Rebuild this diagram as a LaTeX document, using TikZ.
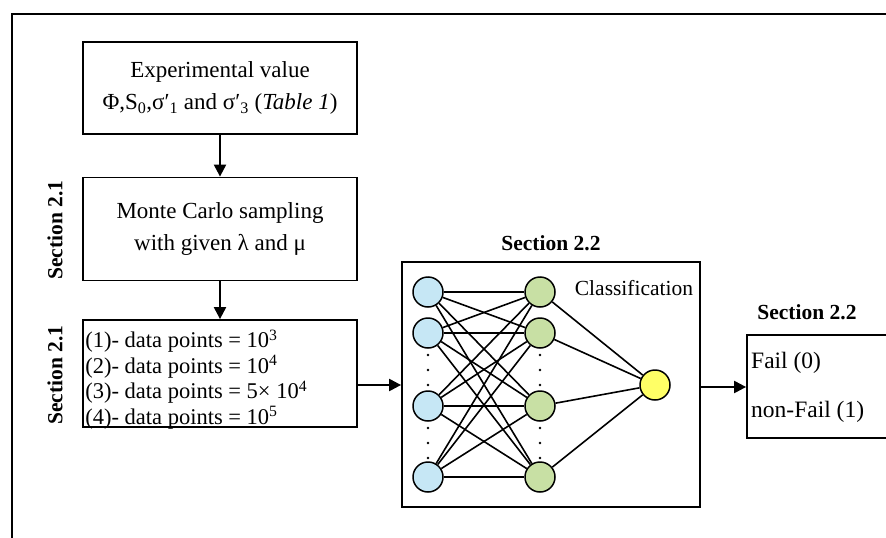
\documentclass[tikz,border=0pt]{standalone}
\usepackage{fontspec}
\setmainfont{Liberation Serif}
\usetikzlibrary{arrows.meta}
\definecolor{inblue}{HTML}{C6E7F5}
\definecolor{hidgreen}{HTML}{C8E0A4}
\definecolor{outyellow}{HTML}{FFFF66}
\begin{document}
\begin{tikzpicture}[x=1pt,y=-1pt,
  every node/.style={font=\fontsize{23}{32}\selectfont},
  stagebox/.style={draw, line width=1.8pt, minimum width=274pt, inner sep=0pt, align=center},
  seclabel/.style={font=\fontsize{21.5}{24}\selectfont\bfseries},
  flow/.style={line width=2.2pt, -{Triangle[length=12pt,width=12pt]}},
  neuron/.style={circle, draw, line width=1.5pt, minimum size=30pt, inner sep=0pt},
  link/.style={line width=1.6pt},
  dotmark/.style={circle, fill, inner sep=0pt, minimum size=2.6pt}]
\useasboundingbox (0,0) rectangle (886,538);
\clip (0,0) rectangle (886,538);
\fill[white] (0,0) rectangle (886,538);

% outer frame, running off the page on the right and at the bottom
\draw[line width=1.8pt] (12,560) -- (12,14) -- (910,14);

% pipeline boxes
\node[stagebox, minimum height=92pt] (exp) at (220,88)
  {Experimental value\\ Φ,S\textsubscript{0},σ′\textsubscript{1} and σ′\textsubscript{3} (\textit{Table 1})};
\node[stagebox, minimum height=103pt] (mc) at (220,229)
  {Monte Carlo sampling\\ with given λ and μ};
\node[stagebox, minimum height=107pt] (data) at (220,373.5) {};
\node[anchor=west, align=left, inner sep=0pt, font=\fontsize{22.5}{25.5}\selectfont]
  (datatext) at ([xshift=3pt, yshift=-6pt]data.west)
  {(1)- data points = 10\textsuperscript{3}\\
   (2)- data points = 10\textsuperscript{4}\\
   (3)- data points = 5× 10\textsuperscript{4}\\
   (4)- data points = 10\textsuperscript{5}};

\node[seclabel, rotate=90] (sec21a) at (55,230) {Section 2.1};
\node[seclabel, rotate=90] (sec21b) at (55,375) {Section 2.1};

% network box
\node[draw, line width=1.8pt, minimum width=298pt, minimum height=245pt, inner sep=0pt] (nn) at (551,384.5) {};
\node[seclabel] (sec22a) at (551,243) {Section 2.2};
\node[font=\fontsize{21.5}{24}\selectfont] (cls) at (634,288) {Classification};

% output box
\node[draw, line width=1.8pt, minimum width=160pt, minimum height=103pt, inner sep=0pt] (res) at (827,386.5) {};
\node[seclabel] (sec22b) at (807,312) {Section 2.2};
\node[anchor=west, inner sep=0pt, font=\fontsize{23.5}{28}\selectfont] (fail) at (751,363) {Fail (0)};
\node[anchor=west, inner sep=0pt, font=\fontsize{23.5}{28}\selectfont] (nonfail) at (751,412) {non-Fail (1)};

% flow arrows
\draw[flow] (exp.south) -- (mc.north);
\draw[flow] (mc.south) -- (data.north);
\draw[flow] (data.east |- 0,385) -- (nn.west |- 0,385);
\draw[flow] (nn.east |- 0,387) -- (res.west |- 0,387);

% neurons
\foreach \k/\y in {1/292, 2/333, 3/406, 4/477} {
  \node[neuron, fill=inblue] (i\k) at (428,\y) {};
  \node[neuron, fill=hidgreen] (h\k) at (540,\y) {};
}
\node[neuron, fill=outyellow] (o) at (655,385) {};

% ellipsis dots between neurons
\foreach \x in {428,540} {
  \foreach \y in {355,370,385,428,443,458} {
    \node[dotmark] at (\x,\y) {};
  }
}

% connections
\foreach \a in {1,...,4} {
  \foreach \b in {1,...,4} {
    \draw[link] (i\a) -- (h\b);
  }
  \draw[link] (h\a) -- (o);
}
\end{tikzpicture}
\end{document}
